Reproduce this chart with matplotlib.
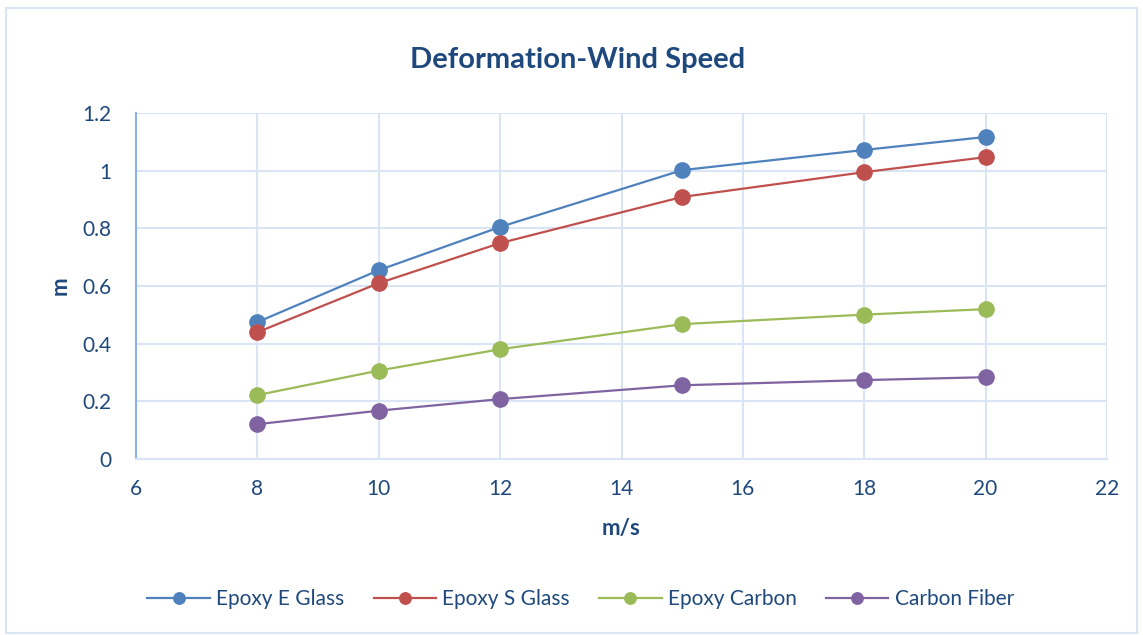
import matplotlib
matplotlib.use('Agg')
import matplotlib.pyplot as plt
from matplotlib.patches import Rectangle

plt.rcParams['font.family'] = ['Lato', 'DejaVu Sans']

# wind speed (m/s) and deformation (m) per material
wind_speed = [8, 10, 12, 15, 18, 20]
epoxy_e_glass = [0.475, 0.655, 0.805, 1.002, 1.072, 1.117]
epoxy_s_glass = [0.440, 0.610, 0.749, 0.909, 0.995, 1.047]
epoxy_carbon = [0.222, 0.307, 0.381, 0.468, 0.501, 0.520]
carbon_fiber = [0.121, 0.168, 0.208, 0.256, 0.274, 0.284]

series = [
    ('Epoxy E Glass', epoxy_e_glass, '#4F81BD'),
    ('Epoxy S Glass', epoxy_s_glass, '#C0504D'),
    ('Epoxy Carbon', epoxy_carbon, '#9BBB59'),
    ('Carbon Fiber', carbon_fiber, '#8064A2'),
]

text_col = '#1F497D'
grid_col = '#D9E5F5'

fig = plt.figure(figsize=(11.43, 6.35), dpi=100)
fig.patches.append(Rectangle((6 / 1143, 2 / 635), 1 - 12 / 1143, 1 - 10 / 635,
                             transform=fig.transFigure, fill=False,
                             edgecolor=grid_col, linewidth=1.5))

ax = fig.add_axes([0.119, 0.277, 0.8495, 0.545])
for name, vals, col in series:
    ax.plot(wind_speed, vals, color=col, linewidth=1.6, marker='o',
            markersize=11, label=name, zorder=3)

ax.set_xlim(6, 22)
ax.set_ylim(0, 1.2)
ax.set_xticks(range(6, 23, 2))
ax.set_yticks([0, 0.2, 0.4, 0.6, 0.8, 1.0, 1.2])
ax.set_yticklabels(['0', '0.2', '0.4', '0.6', '0.8', '1', '1.2'])
ax.grid(True, color=grid_col, linewidth=1.5, zorder=0)
ax.tick_params(length=0, labelsize=15, colors=text_col)
ax.tick_params(axis='y', pad=18)
ax.tick_params(axis='x', pad=14)
for s in ['top', 'right']:
    ax.spines[s].set_visible(False)
ax.spines['bottom'].set_color(grid_col)
ax.spines['bottom'].set_linewidth(1.5)
ax.spines['left'].set_color('#8DB3E2')
ax.spines['left'].set_linewidth(1.5)

fig.text(0.505, 0.905, 'Deformation-Wind Speed', fontsize=21, fontweight='bold',
         color=text_col, ha='center', va='center')
ax.set_xlabel('m/s', fontsize=16, fontweight='bold', color=text_col, labelpad=14)
ax.set_ylabel('m', fontsize=16, fontweight='bold', color=text_col, labelpad=8)

leg = fig.legend(loc='center', bbox_to_anchor=(0.508, 0.056), ncol=4,
                 frameon=False, fontsize=15, handlelength=3.0,
                 columnspacing=1.4, handletextpad=0.3, markerscale=0.75)
for t in leg.get_texts():
    t.set_color(text_col)

fig.savefig('out.png', dpi=100)
